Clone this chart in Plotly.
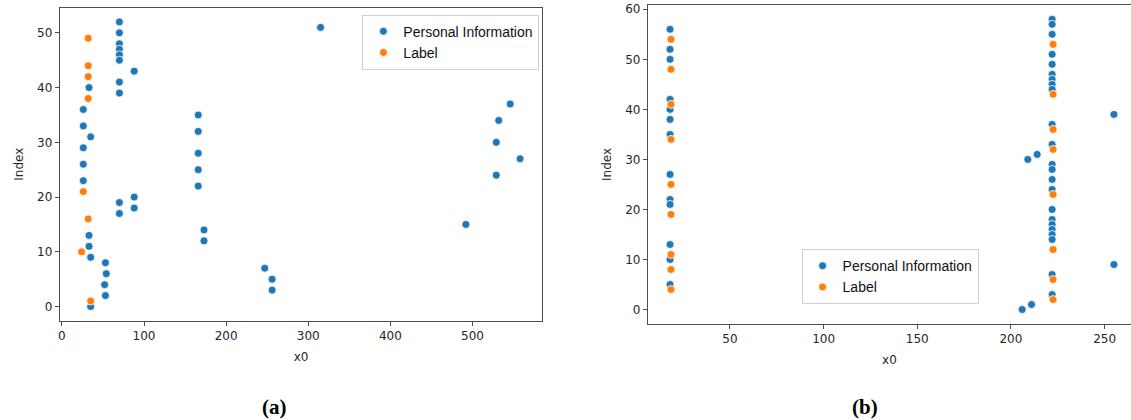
import plotly.graph_objects as go

# ---------------- data: panel (a) ----------------
a_pi_x = [33, 26, 26, 35, 26, 26, 26, 33, 33, 35, 35, 53, 54, 52, 53,
          70, 70, 70, 70, 70, 70, 70, 70, 70, 70,
          88, 88, 88,
          166, 166, 166, 166, 166,
          173, 173,
          247, 256, 256,
          315, 546, 532, 529, 558, 529, 492]
a_pi_y = [40, 36, 33, 31, 29, 26, 23, 13, 11, 9, 0, 8, 6, 4, 2,
          52, 50, 48, 47, 46, 45, 41, 39, 19, 17,
          43, 20, 18,
          35, 32, 28, 25, 22,
          14, 12,
          7, 5, 3,
          51, 37, 34, 30, 27, 24, 15]
a_lb_x = [32, 32, 32, 32, 26, 32, 24, 35]
a_lb_y = [49, 44, 42, 38, 21, 16, 10, 1]

# ---------------- data: panel (b) ----------------
b_pi_x = [18] * 13 + [222] * 23 + [255, 255, 209, 214, 206, 211]
b_pi_y = [56, 52, 50, 42, 40, 38, 35, 27, 22, 21, 13, 10, 5,
          58, 57, 55, 51, 49, 47, 46, 45, 44, 37, 33, 29, 28, 26, 24,
          20, 18, 17, 16, 15, 14, 7, 3,
          39, 9, 30, 31, 0, 1]
b_lb_x = [18.5] * 9 + [222.5] * 8
b_lb_y = [54, 48, 41, 34, 25, 19, 11, 8, 4,
          53, 43, 36, 32, 23, 12, 6, 2]

a_xticks = [0, 100, 200, 300, 400, 500]
a_yticks = [0, 10, 20, 30, 40, 50]
b_xticks = [50, 100, 150, 200, 250]
b_yticks = [0, 10, 20, 30, 40, 50, 60]

BLUE = "#1f77b4"
ORANGE = "#ff7f0e"
W, H = 1131, 420
TXT = "#262626"
FONT = "DejaVu Sans"

fig = go.Figure()

def mk(color):
    return dict(color=color, size=8, line=dict(color="white", width=0.8))

fig.add_trace(go.Scatter(x=a_pi_x, y=a_pi_y, mode="markers", name="Personal Information",
                         marker=mk(BLUE), xaxis="x", yaxis="y", legend="legend",
                         legendgroup="a1"))
fig.add_trace(go.Scatter(x=a_lb_x, y=a_lb_y, mode="markers", name="Label",
                         marker=mk(ORANGE), xaxis="x", yaxis="y", legend="legend",
                         legendgroup="a2"))
fig.add_trace(go.Scatter(x=b_pi_x, y=b_pi_y, mode="markers", name="Personal Information",
                         marker=mk(BLUE), xaxis="x2", yaxis="y2", legend="legend2",
                         legendgroup="b1"))
fig.add_trace(go.Scatter(x=b_lb_x, y=b_lb_y, mode="markers", name="Label",
                         marker=mk(ORANGE), xaxis="x2", yaxis="y2", legend="legend2",
                         legendgroup="b2"))

axis_common = dict(showgrid=False, zeroline=False, showline=True, linecolor="#4d4d4d",
                   linewidth=1, ticks="outside", ticklen=4, tickcolor="#4d4d4d",
                   tickfont=dict(family=FONT, size=12, color=TXT),
                   title_font=dict(family=FONT, size=12, color=TXT))

legend_common = dict(xanchor="left", yanchor="top",
                     bgcolor="rgba(255,255,255,0.8)", bordercolor="#d0d0d0", borderwidth=1,
                     font=dict(family="Liberation Sans", size=14, color="#111"),
                     traceorder="grouped", tracegroupgap=0)

fig.update_layout(
    width=W, height=H,
    margin=dict(l=0, r=0, t=0, b=0),
    plot_bgcolor="white", paper_bgcolor="white",
    font=dict(family=FONT, color=TXT),
    xaxis=dict(axis_common, domain=[57.9 / W, 541.2 / W], range=[-2.6, 585],
               tickvals=a_xticks, mirror=True, anchor="y",
               title=dict(text="x0", standoff=10)),
    yaxis=dict(axis_common, domain=[(H - 320.3) / H, (H - 5.7) / H], range=[-2.6, 54.6],
               tickvals=a_yticks, mirror=True, anchor="x",
               title=dict(text="Index", standoff=10)),
    xaxis2=dict(axis_common, domain=[647.0 / W, 1.0], range=[6.15, 264.1],
                tickvals=b_xticks, mirror=True, anchor="y2",
                title=dict(text="x0", standoff=10)),
    yaxis2=dict(axis_common, domain=[(H - 323.6) / H, (H - 2.8) / H], range=[-2.9, 60.9],
                tickvals=b_yticks, mirror=False, anchor="x2",
                title=dict(text="Index", standoff=10)),
    legend=dict(legend_common, x=361 / W, y=1 - 12.7 / H),
    legend2=dict(legend_common, x=801 / W, y=1 - 248.3 / H),
    annotations=[
        dict(text="<b>(a)</b>", x=273 / W, y=1 - 406.5 / H, xref="paper", yref="paper",
             showarrow=False, xanchor="center", yanchor="middle",
             font=dict(family="Liberation Serif", size=21, color="black")),
        dict(text="<b>(b)</b>", x=865 / W, y=1 - 406.5 / H, xref="paper", yref="paper",
             showarrow=False, xanchor="center", yanchor="middle",
             font=dict(family="Liberation Serif", size=21, color="black")),
    ],
)

fig.write_html("out.html")
